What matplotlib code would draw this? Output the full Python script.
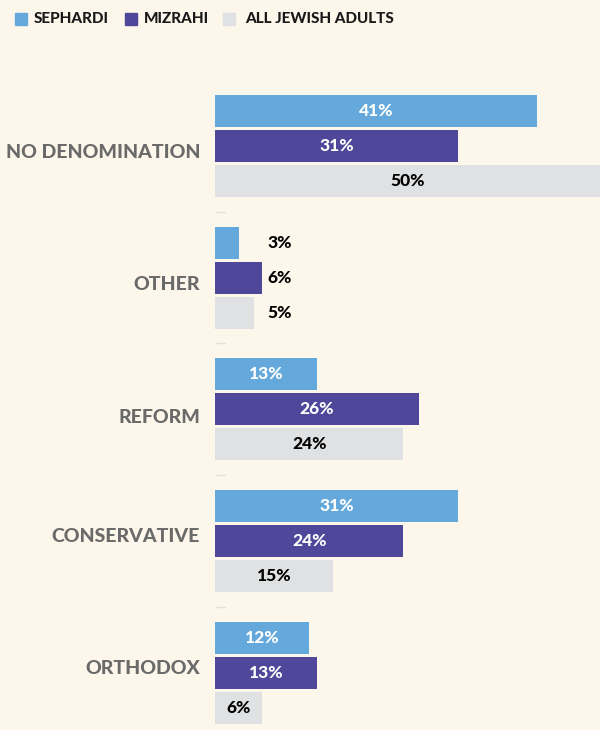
import matplotlib.pyplot as plt
import numpy as np

plt.rcParams['font.family'] = ['Lato', 'DejaVu Sans']

categories = ['NO DENOMINATION', 'OTHER', 'REFORM', 'CONSERVATIVE', 'ORTHODOX']
series = ['SEPHARDI', 'MIZRAHI', 'ALL JEWISH ADULTS']
sephardi = [41, 3, 13, 31, 12]
mizrahi = [31, 6, 26, 24, 13]
all_jewish = [50, 5, 24, 15, 6]

colors = ['#64a8dc', '#4e479a', '#e0e1e2']
text_colors = ['white', 'white', 'black']
bg = '#fdf6ea'

W, H = 600, 730
x0 = 215            # left edge of bars, px
px_per_pct = 7.85

fig = plt.figure(figsize=(W / 100, H / 100), dpi=100, facecolor=bg)
ax = fig.add_axes([x0 / W, 0, (W - x0) / W, 1])
ax.set_facecolor(bg)
xmax = (W - x0) / px_per_pct
ax.set_xlim(0, xmax)
ax.set_ylim(H, 0)
ax.axis('off')

centers = np.array([146, 278, 409, 541, 673])
label_y = [153, 285, 417, 537, 669]
offsets = [-35, 0, 35]
bar_h = 32

for s, vals in enumerate([sephardi, mizrahi, all_jewish]):
    ys = centers + offsets[s]
    ax.barh(ys, vals, height=bar_h, color=colors[s])
    for i, (y, v) in enumerate(zip(ys, vals)):
        if categories[i] == 'OTHER':
            xl = max(sephardi[i], mizrahi[i], all_jewish[i]) + 0.7
            ax.text(xl, y, f'{v}%', ha='left', va='center', fontsize=12.5,
                    fontweight='black', color='black')
        else:
            ax.text(min(v, xmax) / 2, y, f'{v}%', ha='center',
                    va='center', fontsize=12.5, fontweight='black',
                    color=text_colors[s])

# small separator dashes between groups
for c in centers[1:]:
    ys = c - 66
    ax.plot([0.1, 1.3], [ys, ys], color='#e6e2da', lw=1)

# category labels
for yl, name in zip(label_y, categories):
    fig.text(200 / W, 1 - yl / H, name, ha='right', va='center',
             fontsize=14, fontweight='black', color='#6a6a6a')

# legend
leg_items = [(15, 34), (125, 144), (223, 245)]
for (sx, tx), name, col in zip(leg_items, series, colors):
    fig.patches.append(plt.Rectangle((sx / W, 1 - 25 / H), 12 / W, 12 / H,
                                     transform=fig.transFigure, color=col))
    fig.text(tx / W, 1 - 19 / H, name, ha='left', va='center', fontsize=11,
             fontweight='black', color='#1a1a1a')

fig.savefig('out.png', dpi=100, facecolor=bg)
